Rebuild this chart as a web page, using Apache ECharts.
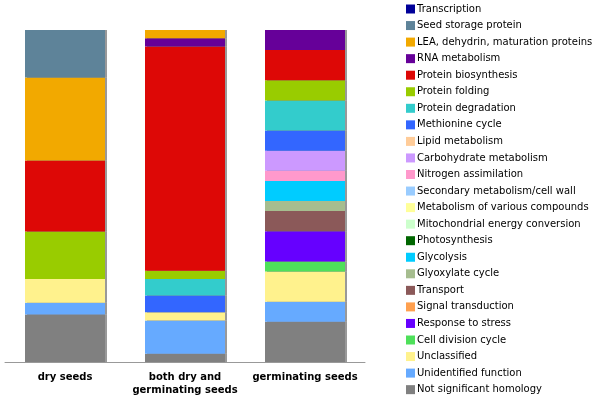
<!DOCTYPE html>
<html>
<head>
<meta charset="utf-8">
<script src="https://cdn.jsdelivr.net/npm/echarts@6/dist/echarts.min.js"></script>
<style>html,body{margin:0;padding:0;background:#fff}#c{width:600px;height:400px}</style>
</head>
<body>
<div id="c"></div>
<script>
var categories = ['dry seeds', 'both dry and\ngerminating seeds', 'germinating seeds'];
var classes = ['Transcription','Seed storage protein','LEA, dehydrin, maturation proteins','RNA metabolism','Protein biosynthesis','Protein folding','Protein degradation','Methionine cycle','Lipid metabolism','Carbohydrate metabolism','Nitrogen assimilation','Secondary metabolism/cell wall','Metabolism of various compounds','Mitochondrial energy conversion','Photosynthesis','Glycolysis','Glyoxylate cycle','Transport','Signal transduction','Response to stress','Cell division cycle','Unclassified','Unidentified function','Not significant homology'];
// counts per class (same order as classes)
var dryCounts  = [0,4,7,0,6,4,0,0,0,0,0,0,0,0,0,0,0,0,0,0,0,2,1,4];
var bothCounts = [0,0,1,1,27,1,2,2,0,0,0,0,0,0,0,0,0,0,0,0,0,1,4,1];
var germCounts = [0,0,0,2,3,2,3,2,0,2,1,0,0,0,0,2,1,2,0,3,1,3,2,4];
var colors = ['#000099','#5E8399','#F2A900','#660099','#DD0806','#99CC00','#33CCCC','#3366FF','#FFCC99','#CC99FF','#FF99CC','#99CCFF','#FFFF99','#CCFFCC','#006600','#00CCFF','#A6BD8F','#8B5959','#FFA04F','#6600FF','#4EE05A','#FFF28D','#66AAFF','#808080'];

var cols = [dryCounts, bothCounts, germCounts];
var totals = cols.map(function(a){return a.reduce(function(s,v){return s+v;},0);});
var series = [];
for (var i = classes.length - 1; i >= 0; i--) {
  series.push({
    name: classes[i],
    type: 'bar',
    stack: 'all',
    barWidth: 80,
    itemStyle: {color: colors[i], shadowColor: 'rgba(0,0,0,0.4)', shadowOffsetX: 2, shadowOffsetY: 0, shadowBlur: 0},
    emphasis: {disabled: true},
    data: cols.map(function(a, k){ return a[i] / totals[k] * 100; })
  });
}
var chart = echarts.init(document.getElementById('c'));
chart.setOption({
  animation: false,
  color: colors,
  grid: {left: 5, right: 235, top: 30, bottom: 38},
  legend: {
    orient: 'vertical', left: 406, top: 3, padding: 0, height: 397,
    data: classes,
    icon: 'rect', itemWidth: 9, itemHeight: 9, itemGap: 4.55,
    textStyle: {fontSize: 10, fontFamily: 'DejaVu Sans', color: '#000', lineHeight: 12, padding: [0,0,0,-3]},
    selectedMode: false
  },
  xAxis: {
    type: 'category', data: categories,
    axisLine: {lineStyle: {color: '#999'}},
    axisTick: {length: 4, lineStyle: {color: '#999'}},
    axisLabel: {interval: 0, fontSize: 10, fontWeight: 'bold', fontFamily: 'DejaVu Sans', color: '#000', lineHeight: 13, margin: 9}
  },
  yAxis: {type: 'value', min: 0, max: 100, show: false},
  series: series
});
</script>
</body>
</html>
